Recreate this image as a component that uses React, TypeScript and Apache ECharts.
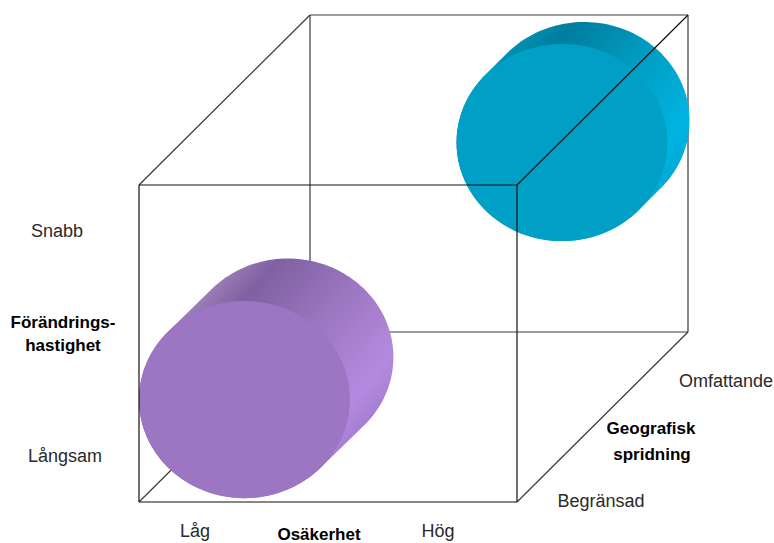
import React, { useEffect, useRef } from "react";
import * as echarts from "echarts";

// Cube coordinates: x = Osäkerhet, y = Förändringshastighet, z = Geografisk spridning.
const cubeCorners: Record<string, number[]> = {
  a: [0, 0, 0], b: [1, 0, 0], c: [1, 1, 0], d: [0, 1, 0],
  e: [0, 0, 1], f: [1, 0, 1], g: [1, 1, 1], h: [0, 1, 1],
};
const rearEdges = ["a-e", "b-f", "d-h", "e-f", "f-g", "g-h", "h-e"];
const frontEdges = ["a-b", "b-c", "c-d", "d-a", "c-g"];

// Each cylinder: front-cap centre (x, y, z), then rear-cap centre (x, y, z).
const purpleBubble = [0.279, 0.323, 0, 0.281, 0.323, 0.25];
const tealBubble = [0.7196, 0.6605, 0.883, 0.725, 0.667, 1];
const bubbleRadius = [0.279, 0.311];

const purpleFace = "#9c75c3";
const tealFace = "#00a0c6";
const purpleSide = [
  [0, "#9a7cb6"], [0.15, "#8060a2"], [0.5, "#9c76bf"], [0.87, "#b48ae0"], [1, "#a67fd2"],
];
const tealSide = [
  [0, "#0090b2"], [0.15, "#007d9e"], [0.5, "#009cc2"], [0.87, "#00b4e2"], [1, "#00aad6"],
];

const speedTicks = ["Snabb", "Långsam"];
const speedTitle = ["Förändrings-", "hastighet"];
const uncertaintyTicks = ["Låg", "Hög"];
const uncertaintyTitle = "Osäkerhet";
const spreadTicks = ["Omfattande", "Begränsad"];
const spreadTitle = ["Geografisk", "spridning"];

// Oblique projection of the depth axis onto the plane.
const DEPTH_X = 171 / 378;
const DEPTH_Y = 170 / 317;
const project = (x: number, y: number, z: number) => [x + DEPTH_X * z, y + DEPTH_Y * z];

const FONT = '"Liberation Sans", sans-serif';

const edgeData = (edges: string[]) =>
  edges.map((e) => {
    const [p, q] = e.split("-");
    return [...project(cubeCorners[p][0], cubeCorners[p][1], cubeCorners[p][2]),
            ...project(cubeCorners[q][0], cubeCorners[q][1], cubeCorners[q][2])];
  });

const edgeSeries = (edges: string[], color: string, z: number) => ({
  type: "custom",
  coordinateSystem: "cartesian2d",
  silent: true,
  clip: false,
  z,
  encode: { x: [0, 2], y: [1, 3] },
  data: edgeData(edges),
  renderItem: (_: any, api: any) => {
    const p = api.coord([api.value(0), api.value(1)]);
    const q = api.coord([api.value(2), api.value(3)]);
    return {
      type: "line",
      shape: { x1: p[0], y1: p[1], x2: q[0], y2: q[1] },
      style: { stroke: color, lineWidth: 1.2, fill: null },
    };
  },
});

const ellipsePoint = (c: number[], r: number[], t: number) => [
  c[0] + r[0] * Math.cos(t),
  c[1] + r[1] * Math.sin(t),
];

const bubbleSeries = (bubble: number[], face: string, side: any[], z: number) => ({
  type: "custom",
  coordinateSystem: "cartesian2d",
  silent: true,
  clip: false,
  z,
  encode: { x: 0, y: 1 },
  data: [[
    ...project(bubble[0], bubble[1], bubble[2]),
    ...project(bubble[3], bubble[4], bubble[5]),
  ]],
  renderItem: (_: any, api: any) => {
    const front = api.coord([api.value(0), api.value(1)]);
    const rear = api.coord([api.value(2), api.value(3)]);
    const origin = api.coord([0, 0]);
    const unit = api.coord([bubbleRadius[0], bubbleRadius[1]]);
    const r = [unit[0] - origin[0], origin[1] - unit[1]];
    const dx = rear[0] - front[0];
    const dy = rear[1] - front[1];

    // Outline of the tube: the far half of the rear cap and the near half of the front cap.
    const t0 = Math.atan2(-r[1] * dx, r[0] * dy);
    const pts: number[][] = [];
    const N = 90;
    const rearSign =
      Math.cos(t0 + Math.PI / 2) * r[0] * dx + Math.sin(t0 + Math.PI / 2) * r[1] * dy > 0 ? 1 : -1;
    for (let i = 0; i <= N; i++) {
      pts.push(ellipsePoint(rear, r, t0 + rearSign * (Math.PI * i) / N));
    }
    for (let i = 0; i <= N; i++) {
      pts.push(ellipsePoint(front, r, t0 + rearSign * (Math.PI + (Math.PI * i) / N)));
    }

    // Shade across the tube, from one tangent line to the other.
    let g0 = ellipsePoint(rear, r, t0);
    let g1 = ellipsePoint(rear, r, t0 + Math.PI);
    if (g0[0] + g0[1] > g1[0] + g1[1]) [g0, g1] = [g1, g0];
    const fill = new echarts.graphic.LinearGradient(
      g0[0], g0[1], g1[0], g1[1],
      side.map(([offset, color]) => ({ offset, color })),
      true
    );

    return {
      type: "group",
      children: [
        { type: "polygon", shape: { points: pts }, style: { fill } },
        {
          type: "ellipse",
          shape: { cx: front[0], cy: front[1], rx: r[0], ry: r[1] },
          style: { fill: face },
        },
      ],
    };
  },
});

const label = (text: string, cx: number, cy: number, strong = false) => ({
  type: "text",
  x: cx,
  y: cy,
  style: {
    text,
    fill: strong ? "#000000" : "#2a2a2a",
    font: `${strong ? 600 : 400} ${strong ? 17 : 18}px ${FONT}`,
    textAlign: "center",
    textVerticalAlign: "middle",
  },
});

export default function App() {
  const ref = useRef<HTMLDivElement>(null);

  useEffect(() => {
    document.body.style.margin = "0";
    const chart = echarts.init(ref.current!, undefined, { renderer: "svg" });
    chart.setOption({
      animation: false,
      backgroundColor: "#ffffff",
      grid: { left: 139, right: 86, top: 15, bottom: 41 },
      xAxis: { type: "value", min: 0, max: 549 / 378, show: false },
      yAxis: { type: "value", min: 0, max: 487 / 317, show: false },
      series: [
        edgeSeries(rearEdges, "#3a3a3a", 1),
        bubbleSeries(purpleBubble, purpleFace, purpleSide, 2),
        bubbleSeries(tealBubble, tealFace, tealSide, 2),
        edgeSeries(frontEdges, "#111111", 3),
      ],
      graphic: [
        label(speedTicks[0], 57, 231),
        label(speedTitle[0], 63, 322, true),
        label(speedTitle[1], 63, 345, true),
        label(speedTicks[1], 65, 456),
        label(uncertaintyTicks[0], 195, 531),
        label(uncertaintyTitle, 319, 534, true),
        label(uncertaintyTicks[1], 438, 531),
        label(spreadTicks[0], 726, 381),
        label(spreadTitle[0], 651, 428, true),
        label(spreadTitle[1], 652, 454, true),
        label(spreadTicks[1], 601, 501),
      ],
    });
    return () => chart.dispose();
  }, []);

  return <div ref={ref} style={{ width: 774, height: 543 }} />;
}
